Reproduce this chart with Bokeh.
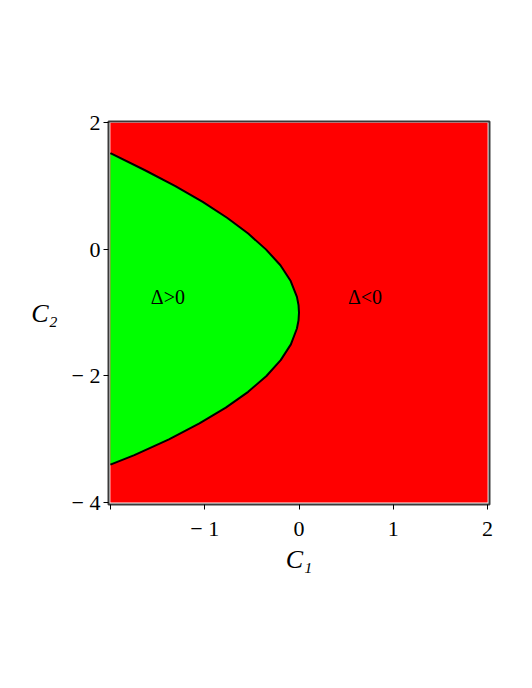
from bokeh.plotting import figure
from bokeh.models import Range1d, FixedTicker, Label
from bokeh.embed import file_html
from bokeh.resources import INLINE

# Boundary curve Δ=0 (C1 for each C2)
curve_c2 = [1.52, 1.25, 1.0, 0.75, 0.5, 0.25, 0.0, -0.25, -0.5, -0.75, -0.88, -1.0,
            -1.12, -1.25, -1.5, -1.75, -2.0, -2.25, -2.5, -2.75, -3.0, -3.25, -3.40]
curve_c1 = [-2.0, -1.633, -1.311, -1.021, -0.763, -0.539, -0.351, -0.197, -0.088, -0.022, -0.005, 0.0,
            -0.005, -0.022, -0.086, -0.194, -0.345, -0.539, -0.776, -1.056, -1.379, -1.746, -2.0]

x_min, x_max = -2.0, 2.0
y_min, y_max = -4.0, 2.0
x_ticks = [-2, -1, 0, 1, 2]
x_tick_labels = ["", "− 1", "0", "1", "2"]
y_ticks = [-4, -2, 0, 2]
y_tick_labels = ["− 4", "− 2", "0", "2"]

region_labels = ["Δ>0", "Δ<0"]
region_x = [-1.39, 0.70]
region_y = [-0.76, -0.76]

FONT = "Liberation Serif"

p = figure(output_backend="svg", toolbar_location=None,
           frame_width=381, frame_height=383,
           min_border_left=108, min_border_top=121,
           min_border_right=10, min_border_bottom=100,
           x_range=Range1d(-2.02, 2.02), y_range=Range1d(-4.03, 2.02))
p.xgrid.visible = False
p.ygrid.visible = False
p.background_fill_color = "white"
p.border_fill_color = "white"
p.outline_line_color = "#3a3a3a"
p.outline_line_width = 2

# red background region (Δ<0)
p.quad(left=[x_min], right=[x_max], bottom=[y_min], top=[y_max],
       fill_color="#ff0000", line_color=None)

# green region (Δ>0): enclosed by curve and left edge
p.patch(curve_c1, curve_c2, fill_color="#00ff00", line_color=None)
p.line(curve_c1, curve_c2, line_color="black", line_width=2, line_join="round")

for t, xx, yy in zip(region_labels, region_x, region_y):
    p.add_layout(Label(x=xx, y=yy, text=t, text_font=FONT, text_font_size="20px",
                       text_align="center", text_baseline="middle", text_color="black"))

for ax in (p.xaxis[0], p.yaxis[0]):
    ax.axis_line_color = "#3a3a3a"
    ax.axis_line_width = 1
    ax.major_tick_line_color = "black"
    ax.major_tick_in = 0
    ax.major_tick_out = 5
    ax.minor_tick_line_color = None
    ax.major_label_text_font = FONT
    ax.major_label_text_font_size = "22px"
    ax.major_label_text_color = "black"
    ax.axis_label_text_font = FONT
    ax.axis_label_text_font_style = "italic"
    ax.axis_label_text_font_size = "26px"
    ax.axis_label_text_color = "black"

p.xaxis[0].ticker = FixedTicker(ticks=x_ticks)
p.xaxis[0].major_label_overrides = {t: l for t, l in zip(x_ticks, x_tick_labels)}
p.xaxis[0].major_label_standoff = 6
p.xaxis[0].axis_label = "C₁"
p.xaxis[0].axis_label_standoff = 1
p.yaxis[0].ticker = FixedTicker(ticks=y_ticks)
p.yaxis[0].major_label_overrides = {t: l for t, l in zip(y_ticks, y_tick_labels)}
p.yaxis[0].major_label_standoff = 3
p.yaxis[0].axis_label = "C₂"
p.yaxis[0].axis_label_orientation = "horizontal"
p.yaxis[0].axis_label_standoff = 11

open("out.html", "w").write(file_html(p, INLINE))
